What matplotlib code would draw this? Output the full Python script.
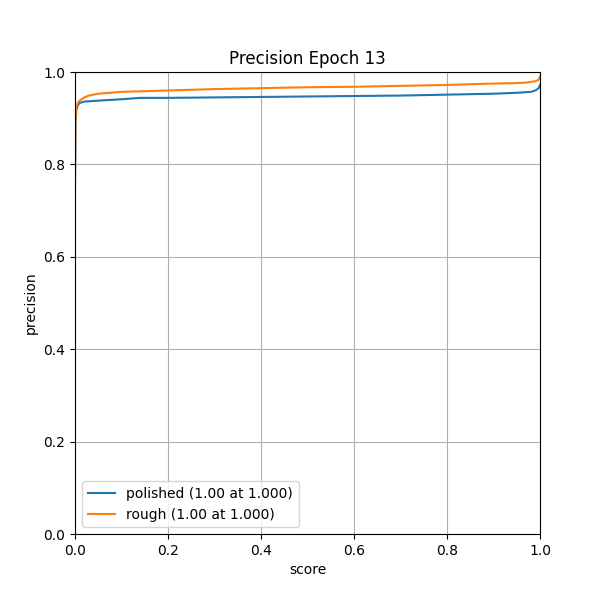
"""
precision vs score curves for epoch 13
"""

import matplotlib
matplotlib.use('Agg')
import matplotlib.pyplot as plt

polished_score = [0.0, 0.001, 0.003, 0.006, 0.01, 0.02, 0.05, 0.1, 0.14, 0.2, 0.3,
                  0.4, 0.5, 0.6, 0.7, 0.8, 0.9, 0.95, 0.98, 0.99, 0.997, 1.0]
polished_prec = [0.75, 0.89, 0.918, 0.928, 0.933, 0.936, 0.938, 0.941, 0.944, 0.944, 0.945,
                 0.946, 0.947, 0.948, 0.949, 0.951, 0.953, 0.955, 0.957, 0.96, 0.965, 0.972]
rough_score = [0.0, 0.001, 0.003, 0.006, 0.01, 0.02, 0.03, 0.05, 0.1, 0.2, 0.3,
               0.4, 0.5, 0.6, 0.7, 0.8, 0.9, 0.95, 0.97, 0.99, 0.997, 1.0]
rough_prec = [0.78, 0.9, 0.925, 0.933, 0.938, 0.945, 0.949, 0.953, 0.957, 0.96, 0.963,
              0.965, 0.967, 0.968, 0.970, 0.972, 0.975, 0.976, 0.977, 0.980, 0.983, 0.99]
labels = ['polished (1.00 at 1.000)', 'rough (1.00 at 1.000)']


def main():
    plt.figure(figsize=(6, 6))
    plt.plot(polished_score, polished_prec, label=labels[0])
    plt.plot(rough_score, rough_prec, label=labels[1])
    plt.xlim(0, 1)
    plt.ylim(0, 1)
    plt.grid(True)
    plt.title('Precision Epoch 13')
    plt.xlabel('score')
    plt.ylabel('precision')
    plt.legend(loc='lower left')
    plt.savefig('out.png')


if __name__ == '__main__':
    main()
